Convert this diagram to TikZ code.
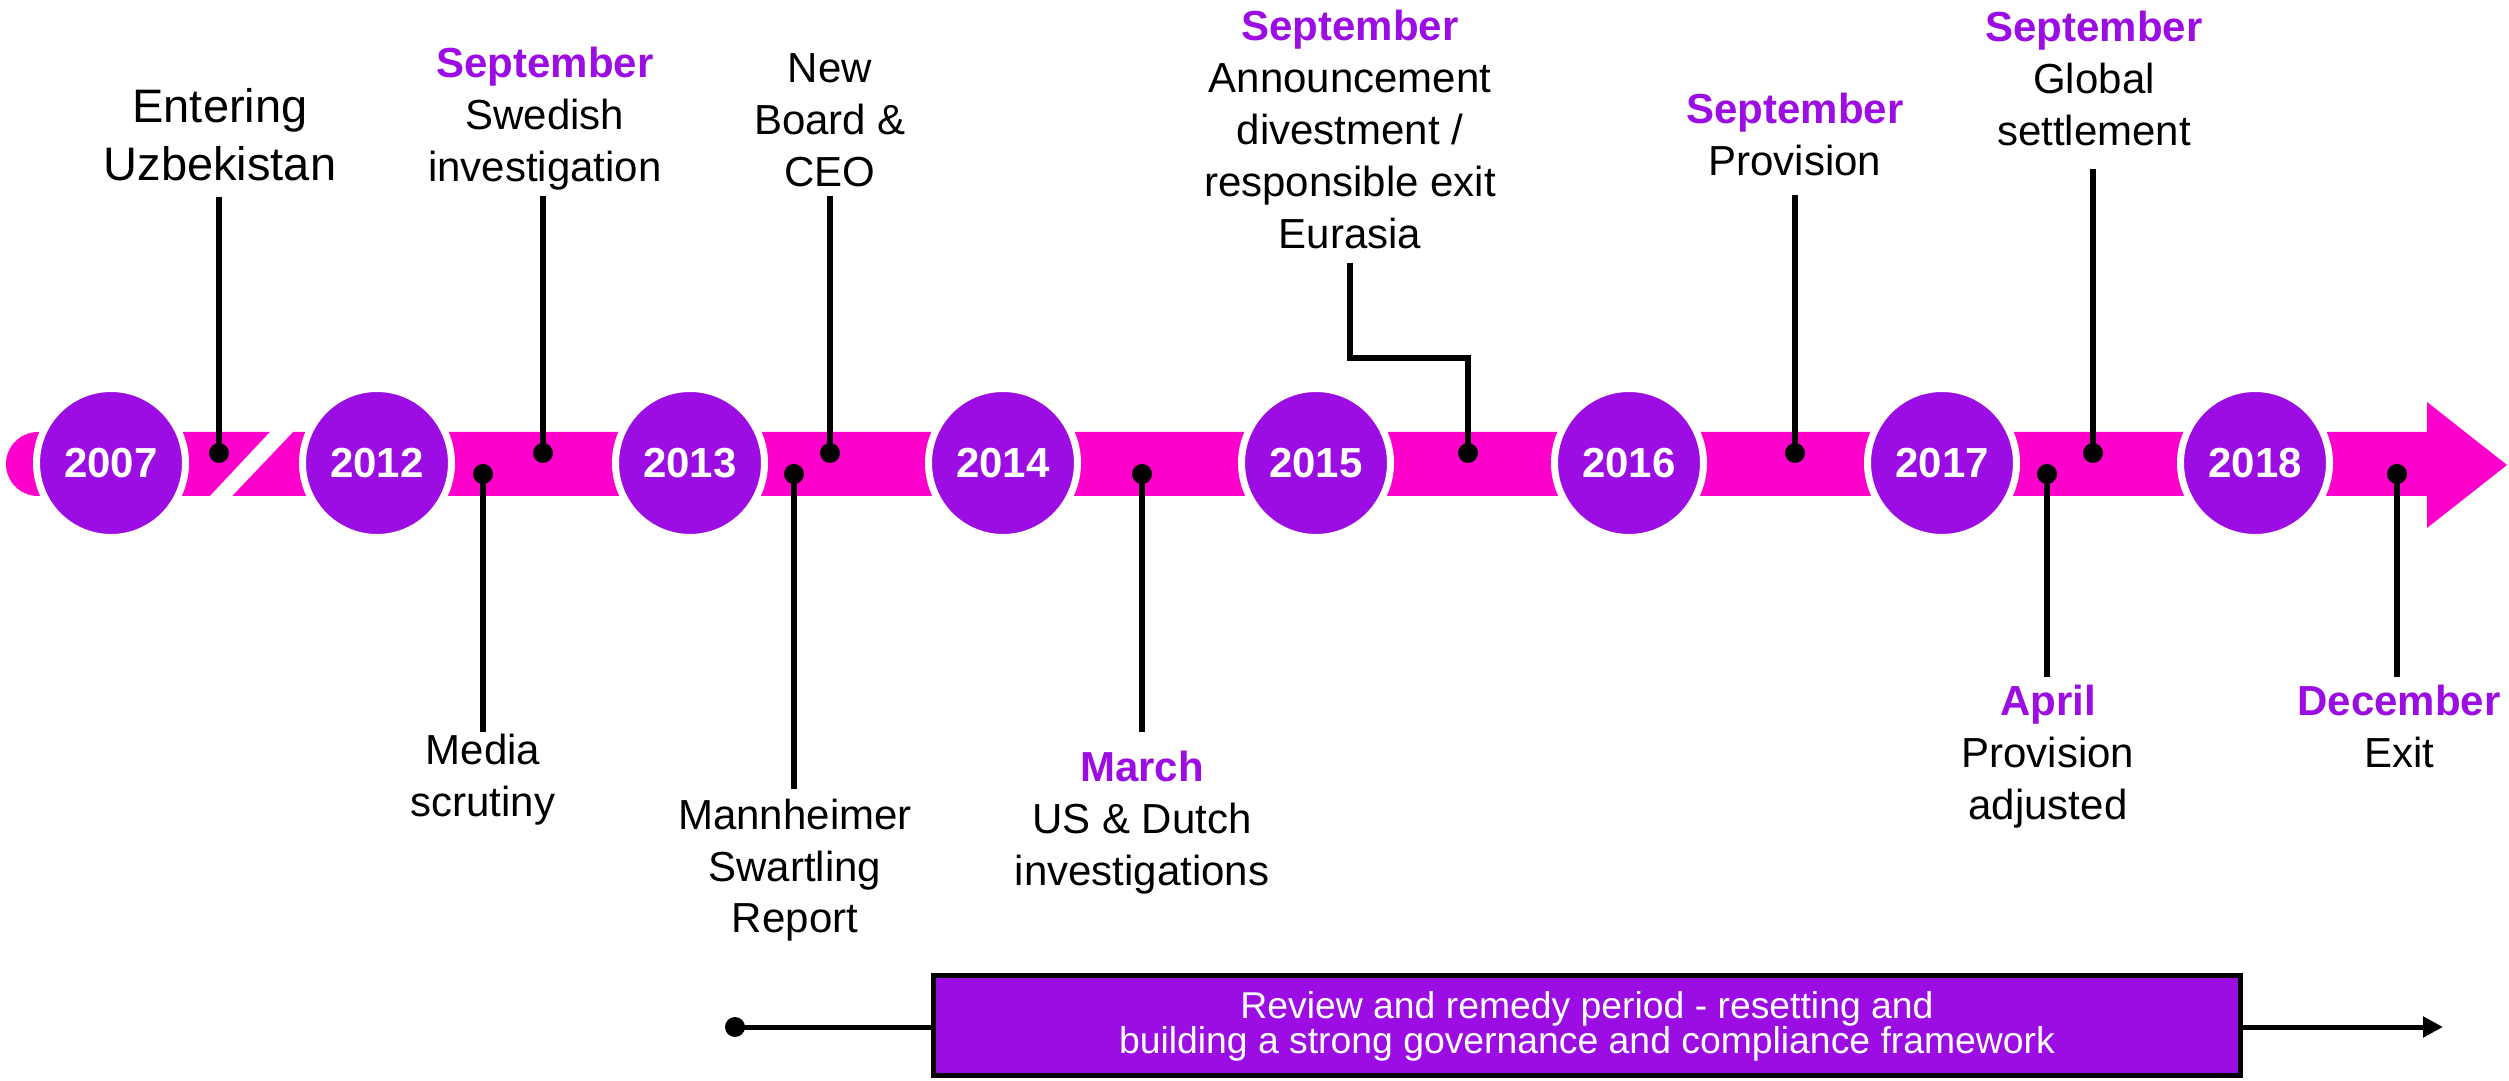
\documentclass[tikz,border=0pt]{standalone}
\usepackage{fontspec}
\setmainfont{Liberation Sans}
\usetikzlibrary{arrows.meta}
\definecolor{purp}{RGB}{155,13,226}
\definecolor{pinkbar}{RGB}{255,0,204}
\newcommand\stk[1]{\vtop{\lineskiplimit=-1000pt\halign{\hfil##\hfil\cr#1\crcr}}}
\newcommand\mon[1]{{\color{purp}\bfseries #1}}
\begin{document}
\begin{tikzpicture}[x=0.3pt,y=-0.3pt,
  lab/.style={font=\fontsize{12.6}{15.6}\selectfont, anchor=base, inner sep=0pt},
  biglab/.style={font=\fontsize{14.1}{17.4}\selectfont, anchor=base, inner sep=0pt},
  yr/.style={circle, fill=purp, draw=white, line width=2.1pt, minimum size=44.7pt, inner sep=0pt,
    text=white, font=\fontsize{12.6}{14}\selectfont\bfseries},
  dotn/.style={circle, fill=black, inner sep=0pt, minimum size=6pt},
  conn/.style={line width=1.8pt, black},
  boxn/.style={draw=black, line width=1.5pt, fill=purp, minimum width=392.1pt, minimum height=30pt, inner sep=0pt},
  boxtxt/.style={font=\fontsize{11.2}{10.5}\selectfont, text=white, anchor=base, inner sep=0pt}
]
\useasboundingbox (0,0) rectangle (2509,1081);
% main bar
\fill[pinkbar] (38,464) circle[radius=32];
\fill[pinkbar] (38,432) -- (2427,432) -- (2427,402) -- (2507,465) -- (2427,528) -- (2427,496) -- (38,496) -- cycle;
% break slash
\fill[white] (273.75,428) -- (296.75,428) -- (228.25,500) -- (206.25,500) -- cycle;
% year circles
\node[yr] (y2007) at (111,463) {2007};
\node[yr] (y2012) at (377,463) {2012};
\node[yr] (y2013) at (690,463) {2013};
\node[yr] (y2014) at (1003,463) {2014};
\node[yr] (y2015) at (1316,463) {2015};
\node[yr] (y2016) at (1629,463) {2016};
\node[yr] (y2017) at (1942,463) {2017};
\node[yr] (y2018) at (2255,463) {2018};

% Entering Uzbekistan
\node[biglab] (ent) at (220,123) {\stk{Entering\cr Uzbekistan}};
\coordinate (entT) at (219,197);
\node[dotn] (entD) at (219,453) {};
\draw[conn] (entT) -- (entD.center);

% Media scrutiny
\node[lab] (med) at (483,765) {\stk{Media\cr scrutiny}};
\coordinate (medB) at (483,732);
\node[dotn] (medD) at (483,474) {};
\draw[conn] (medB) -- (medD.center);

% Swedish investigation
\node[lab] (swe) at (545,78) {\stk{\mon{September}\cr Swedish\cr investigation}};
\coordinate (sweT) at (543,196);
\node[dotn] (sweD) at (543,453) {};
\draw[conn] (sweT) -- (sweD.center);

% Mannheimer Swartling Report
\node[lab] (mhr) at (795,829) {\stk{Mannheimer\cr Swartling\cr Report}};
\coordinate (mhrB) at (794,789);
\node[dotn] (mhrD) at (794,474) {};
\draw[conn] (mhrB) -- (mhrD.center);

% New Board & CEO
\node[lab] (nbc) at (830,83) {\stk{New\cr Board \&\cr CEO}};
\coordinate (nbcT) at (830,196);
\node[dotn] (nbcD) at (830,453) {};
\draw[conn] (nbcT) -- (nbcD.center);

% March US & Dutch
\node[lab] (mar) at (1142,782) {\stk{\mon{March}\cr US \& Dutch\cr investigations}};
\coordinate (marB) at (1142,732);
\node[dotn] (marD) at (1142,474) {};
\draw[conn] (marB) -- (marD.center);

% Announcement
\node[lab] (ann) at (1350,41) {\stk{\mon{September}\cr Announcement\cr divestment /\cr responsible exit\cr Eurasia}};
\coordinate (annT) at (1350,263);
\coordinate (annM) at (1468,358);
\node[dotn] (annD) at (1468,453) {};
\draw[conn] (annT) |- (annM) -- (annD.center);

% September Provision
\node[lab] (prv) at (1795,124) {\stk{\mon{September}\cr Provision}};
\coordinate (prvT) at (1795,195);
\node[dotn] (prvD) at (1795,453) {};
\draw[conn] (prvT) -- (prvD.center);

% April Provision adjusted
\node[lab] (apr) at (2048,716) {\stk{\mon{April}\cr Provision\cr adjusted}};
\coordinate (aprB) at (2047,677);
\node[dotn] (aprD) at (2047,474) {};
\draw[conn] (aprB) -- (aprD.center);

% Global settlement
\node[lab] (glo) at (2094,42) {\stk{\mon{September}\cr Global\cr settlement}};
\coordinate (gloT) at (2093,169);
\node[dotn] (gloD) at (2093,453) {};
\draw[conn] (gloT) -- (gloD.center);

% December Exit
\node[lab] (dec) at (2399,716) {\stk{\mon{December}\cr Exit}};
\coordinate (decB) at (2397,677);
\node[dotn] (decD) at (2397,474) {};
\draw[conn] (decB) -- (decD.center);

% bottom period bar
\node[dotn] (bd) at (735,1027) {};
\node[boxn] (rbox) at (1587,1025.5) {};
\coordinate (bend) at (2443,1027);
\draw[line width=1.5pt] (bd.center) -- (bd -| rbox.west);
\draw[line width=1.5pt, -{Triangle[length=6pt,width=6pt]}] (bd -| rbox.east) -- (bend);
\node[boxtxt] (rtxt) at (1587,1018) {\stk{Review and remedy period - resetting and\cr building a strong governance and compliance framework}};
\end{tikzpicture}
\end{document}
